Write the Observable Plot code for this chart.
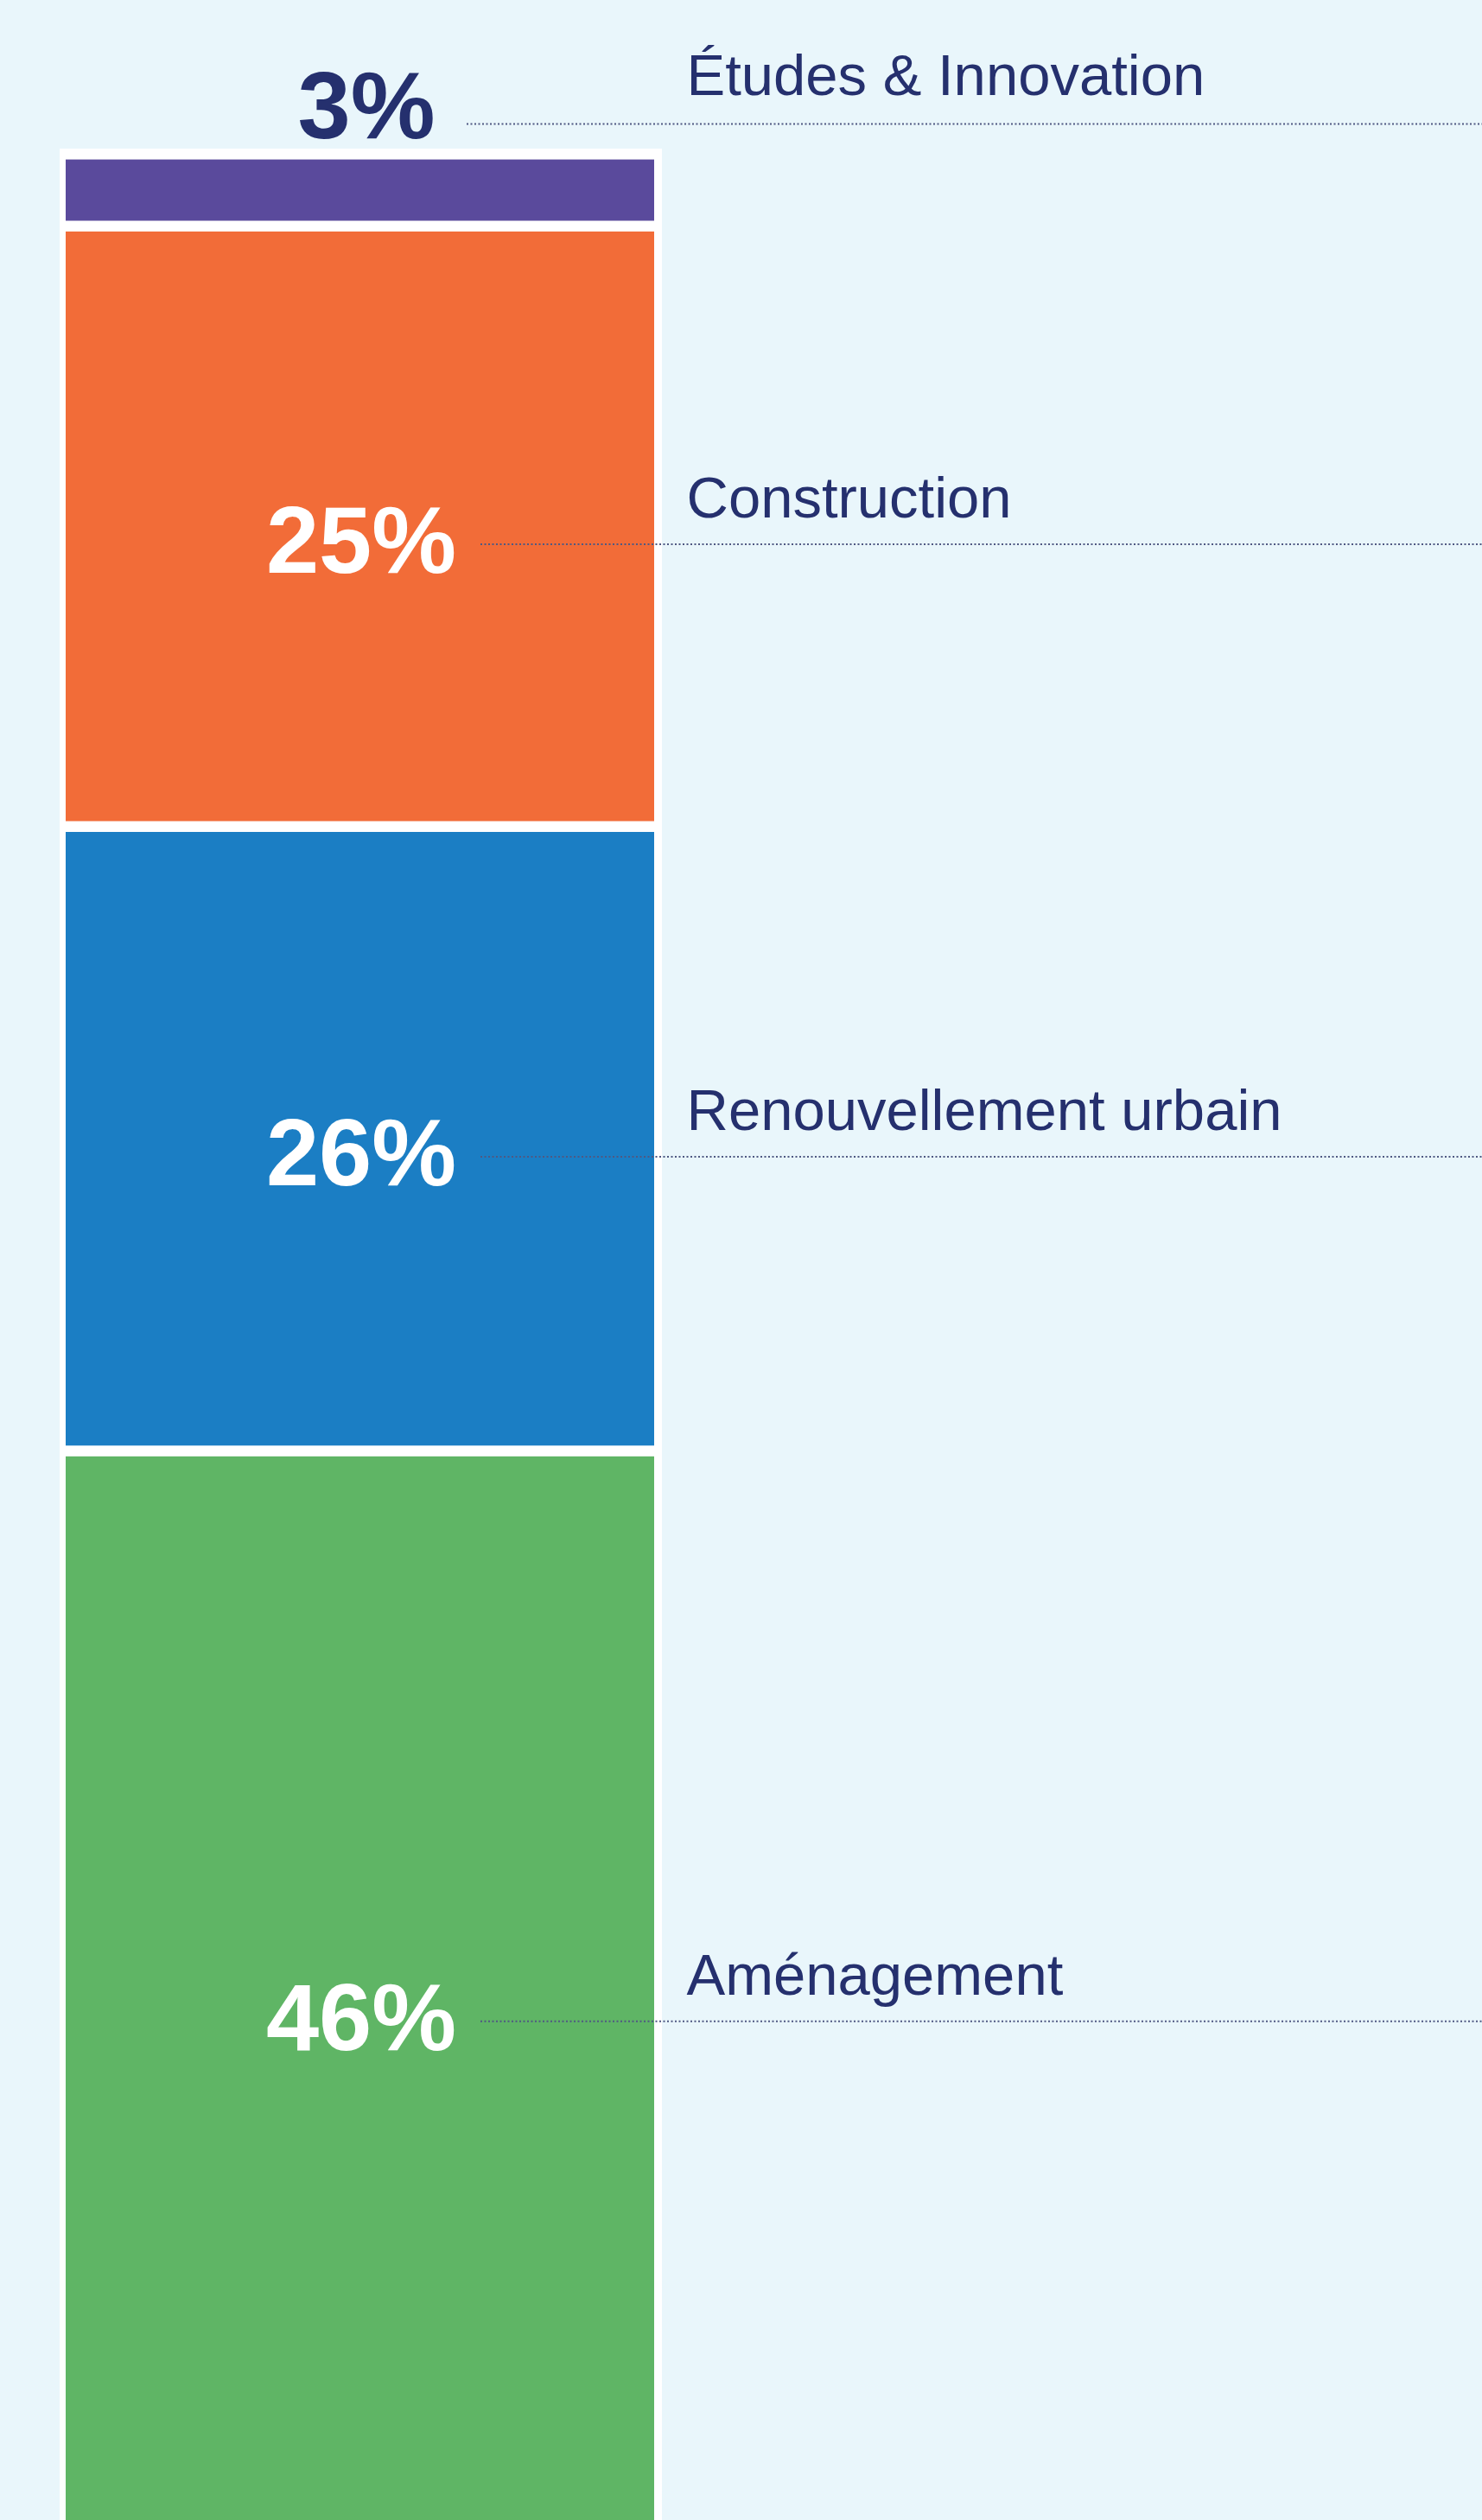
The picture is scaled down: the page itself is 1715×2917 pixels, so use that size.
<!DOCTYPE html>
<html><head><meta charset="utf-8">
<script src="https://cdn.jsdelivr.net/npm/d3@7"></script>
<script src="https://cdn.jsdelivr.net/npm/@observablehq/plot@0.6"></script>
<style>html,body{margin:0;padding:0;background:#e9f6fb;overflow:hidden}</style>
</head><body><div id="chart"></div>
<script>
// Data (bottom to top of the stacked bar)
const categories = ["Aménagement", "Renouvellement urbain", "Construction", "Études & Innovation"];
const shares = [46, 26, 25, 3];
const colors = ["#5fb565", "#1b7ec4", "#f26c38", "#5a4a9c"];
const column = "Répartition";

let acc = 0;
const rows = categories.map((c, i) => {
  const lo = acc; acc += shares[i];
  return {category: c, share: shares[i], label: shares[i] + "%", column, lo, hi: acc, mid: (lo + acc) / 2};
});
const inside = rows.filter(d => d.share >= 10);
const outside = rows.filter(d => d.share < 10);

const navy = "#25306e";
const lineStyle = {stroke: "#4f5882", strokeWidth: 2, strokeDasharray: "2,2.5"};

const chart = Plot.plot({
  width: 1715, height: 2917,
  marginTop: 0, marginRight: 0, marginBottom: 0, marginLeft: 0,
  style: {background: "#e9f6fb", fontFamily: "'Liberation Sans', Arial, sans-serif"},
  x: {type: "band", domain: [column], range: [69, 766], padding: 0, axis: null},
  y: {domain: [0, 100], range: [2958.6, 178.6], axis: null},
  color: {domain: categories, range: colors},
  marks: [
    Plot.barY(rows, {x: "column", y1: "lo", y2: "hi", fill: "white", insetTop: -6.5, insetBottom: -6.5}),
    Plot.barY(rows, {x: "column", y1: "lo", y2: "hi", fill: "category", insetTop: 6, insetBottom: 6.5, insetLeft: 7, insetRight: 9}),
    // leader lines
    Plot.ruleY(inside, {y: "mid", dy: 20, insetLeft: 556, ...lineStyle}),
    Plot.ruleY(outside, {y: "hi", dy: -35.6, insetLeft: 540, ...lineStyle}),
    // percentage labels
    Plot.text(inside, {x: "column", y: "mid", dy: 18, text: "label", fill: "white", fontSize: 110, fontWeight: "bold", textAnchor: "middle"}),
    Plot.text(outside, {x: "column", y: "hi", dy: -54, dx: 6, text: "label", fill: navy, fontSize: 110, fontWeight: "bold", textAnchor: "middle"}),
    // category labels
    Plot.text(inside, {y: "mid", frameAnchor: "left", dx: 794, dy: -32, text: "category", fill: navy, fontSize: 67, textAnchor: "start"}),
    Plot.text(outside, {y: "hi", frameAnchor: "left", dx: 794, dy: -90.6, text: "category", fill: navy, fontSize: 67, textAnchor: "start"})
  ]
});
document.getElementById("chart").appendChild(chart);
</script>
</body></html>
